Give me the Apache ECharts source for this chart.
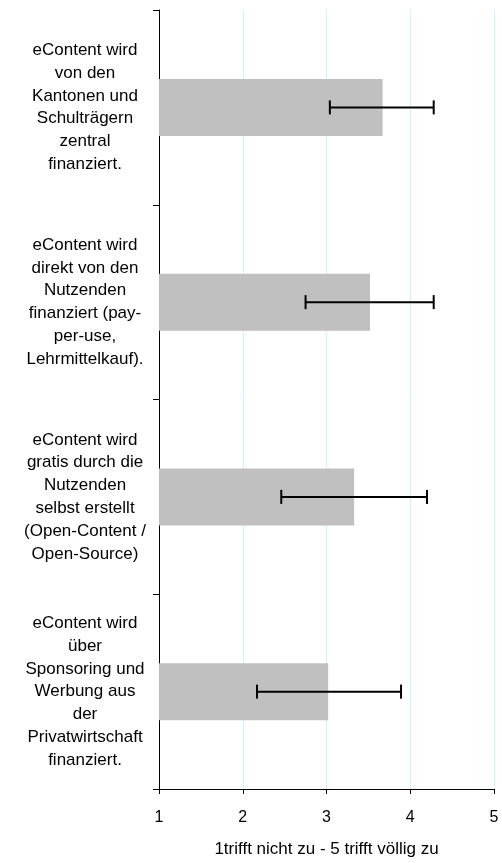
<!DOCTYPE html>
<html><head><meta charset="utf-8">
<script src="https://cdn.jsdelivr.net/npm/echarts@6/dist/echarts.min.js"></script>
<style>html,body{margin:0;padding:0;background:#fff}#c{width:502px;height:863px}</style>
</head><body><div id="c"></div>
<script>
var categories = [
  "eContent wird\nvon den\nKantonen und\nSchulträgern\nzentral\nfinanziert.",
  "eContent wird\ndirekt von den\nNutzenden\nfinanziert (pay-\nper-use,\nLehrmittelkauf).",
  "eContent wird\ngratis durch die\nNutzenden\nselbst erstellt\n(Open-Content /\nOpen-Source)",
  "eContent wird\nüber\nSponsoring und\nWerbung aus\nder\nPrivatwirtschaft\nfinanziert."
];
var means = [3.67, 3.52, 3.33, 3.02];
var errLow = [3.04, 2.75, 2.46, 2.17];
var errHigh = [4.28, 4.28, 4.20, 3.89];
var xTicks = [1, 2, 3, 4, 5];
var xTitle = "1trifft nicht zu - 5 trifft völlig zu";

var errData = categories.map(function (c, i) { return [i, errLow[i], errHigh[i]]; });
var font = "Liberation Sans, Arial, sans-serif";
var chart = echarts.init(document.getElementById('c'), null, {renderer: 'canvas'});
chart.setOption({
  animation: false,
  grid: {left: 159, right: 8, top: 10, bottom: 70, containLabel: false},
  xAxis: {
    type: 'value', min: xTicks[0], max: xTicks[xTicks.length - 1], interval: 1,
    axisLine: {show: true, lineStyle: {color: '#000', width: 1}},
    axisTick: {show: true, length: 5, lineStyle: {color: '#000'}},
    axisLabel: {color: '#000', fontSize: 16, fontFamily: font, margin: 21,
      formatter: function (v) { return xTicks.indexOf(v) >= 0 ? String(v) : ''; }},
    splitLine: {show: true, lineStyle: {color: '#c8f6f6', width: 1}},
    name: xTitle, nameLocation: 'middle', nameGap: 52,
    nameTextStyle: {color: '#000', fontSize: 17, fontFamily: font}
  },
  yAxis: {
    type: 'category', data: categories, inverse: true,
    axisLine: {show: true, lineStyle: {color: '#000', width: 1}},
    axisTick: {show: true, length: 6, lineStyle: {color: '#000'}},
    axisLabel: {color: '#000', fontSize: 17, fontFamily: font, align: 'center', margin: 74,
      lineHeight: 22.8, padding: [0, 0, 17, 0]},
    splitLine: {show: false}
  },
  series: [
    {type: 'bar', data: means, barWidth: 57, itemStyle: {color: '#c0c0c0'}, z: 2},
    {type: 'custom', data: errData, encode: {x: [1, 2], y: 0}, z: 3,
      renderItem: function (params, api) {
        var cat = api.value(0);
        var p1 = api.coord([api.value(1), cat]);
        var p2 = api.coord([api.value(2), cat]);
        var h = 7;
        var st = {stroke: '#000', lineWidth: 2};
        return {type: 'group', children: [
          {type: 'line', shape: {x1: p1[0], y1: p1[1], x2: p2[0], y2: p2[1]}, style: st},
          {type: 'line', shape: {x1: p1[0], y1: p1[1] - h, x2: p1[0], y2: p1[1] + h}, style: st},
          {type: 'line', shape: {x1: p2[0], y1: p2[1] - h, x2: p2[0], y2: p2[1] + h}, style: st}
        ]};
      }}
  ]
});
</script></body></html>
